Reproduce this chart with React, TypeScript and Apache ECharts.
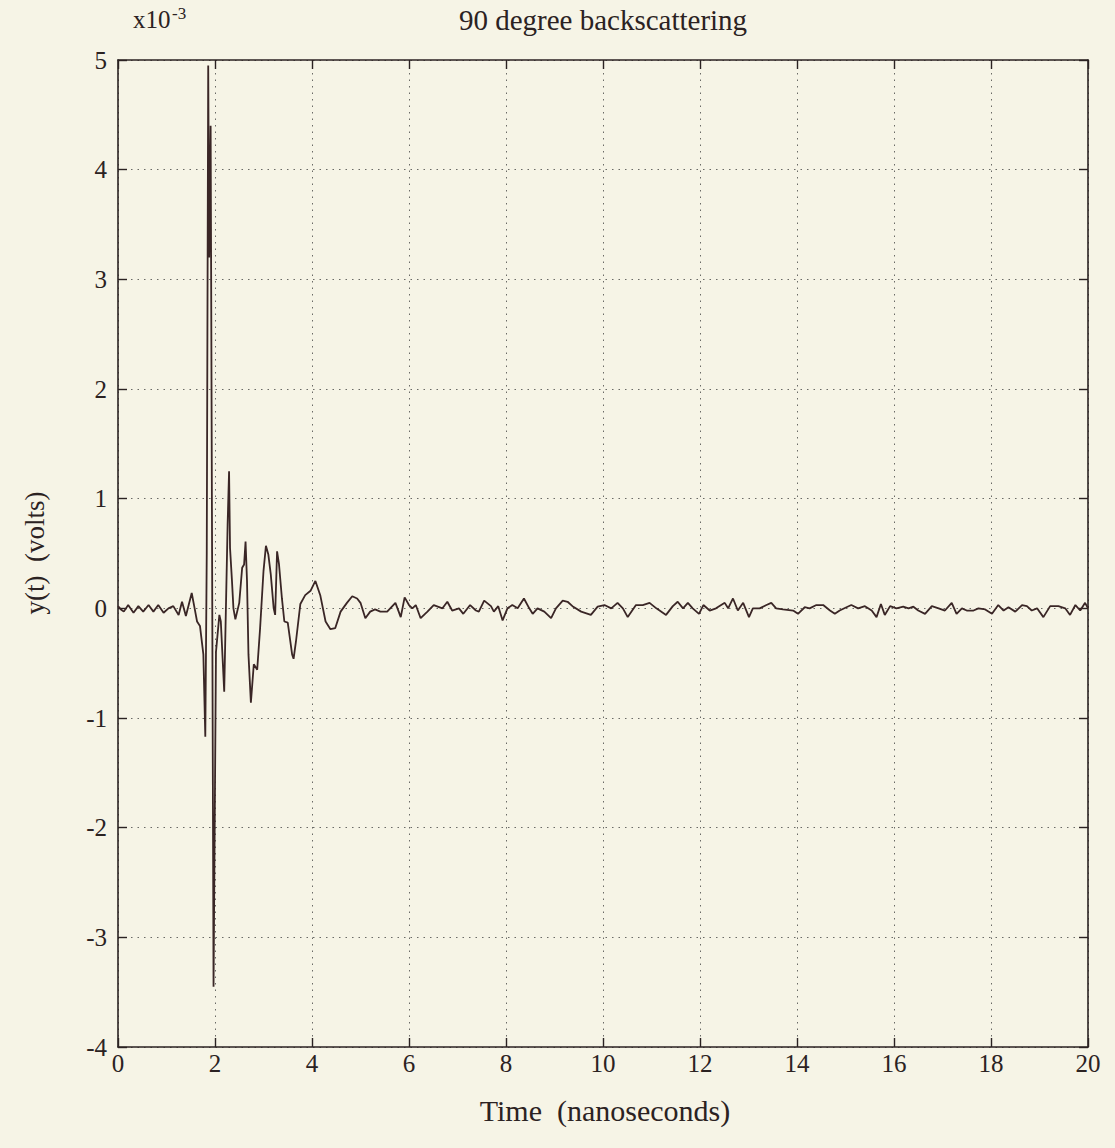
import { useEffect, useRef } from "react";
import * as echarts from "echarts";

const timeNs = [
  0.0, 0.06, 0.12, 0.21, 0.32, 0.42, 0.52, 0.63, 0.73, 0.83, 0.94, 1.04, 1.14, 1.25, 1.32, 1.4, 1.52, 1.58, 1.63, 1.69,
  1.76, 1.8, 1.83, 1.86, 1.88, 1.91, 1.94, 1.97, 2.02, 2.09, 2.12, 2.19, 2.26, 2.29, 2.31, 2.35, 2.38, 2.42, 2.5, 2.56,
  2.6, 2.63, 2.66, 2.69, 2.74, 2.8, 2.87, 2.93, 3.0, 3.05, 3.1, 3.15, 3.21, 3.24, 3.28, 3.32, 3.38, 3.43, 3.5, 3.59,
  3.62, 3.67, 3.76, 3.86, 3.97, 4.07, 4.17, 4.28, 4.38, 4.48, 4.59, 4.72, 4.83, 4.93, 5.0, 5.1, 5.2, 5.3, 5.41, 5.55,
  5.72, 5.83, 5.91, 6.0, 6.07, 6.14, 6.24, 6.38, 6.51, 6.69, 6.79, 6.89, 7.03, 7.12, 7.26, 7.38, 7.44, 7.55, 7.69, 7.75,
  7.84, 7.93, 8.03, 8.13, 8.24, 8.37, 8.48, 8.55, 8.65, 8.79, 8.93, 9.03, 9.17, 9.27, 9.37, 9.55, 9.75, 9.89, 10.03, 10.17,
  10.3, 10.41, 10.51, 10.68, 10.82, 10.96, 11.1, 11.3, 11.44, 11.54, 11.65, 11.75, 11.85, 11.98, 12.07, 12.2, 12.33, 12.51, 12.58, 12.68,
  12.78, 12.89, 13.01, 13.09, 13.23, 13.37, 13.47, 13.57, 13.71, 13.92, 14.02, 14.16, 14.26, 14.4, 14.54, 14.68, 14.78, 14.88, 15.02, 15.12,
  15.26, 15.4, 15.54, 15.64, 15.73, 15.81, 15.92, 16.05, 16.19, 16.3, 16.4, 16.5, 16.64, 16.78, 16.92, 17.05, 17.19, 17.29, 17.4, 17.5,
  17.64, 17.74, 17.88, 18.02, 18.15, 18.26, 18.36, 18.5, 18.64, 18.74, 18.84, 18.95, 19.08, 19.22, 19.39, 19.53, 19.63, 19.74, 19.84, 19.94,
  20.0,
];

// y(t) in units of 1e-3 volts
const voltsE3 = [
  0.02, -0.01, -0.03, 0.03, -0.04, 0.02, -0.03, 0.03, -0.03, 0.03, -0.04, 0.0, 0.02, -0.06, 0.06, -0.07, 0.14, 0.0, -0.12, -0.16,
  -0.42, -1.17, 0.5, 4.95, 3.2, 4.4, 0.5, -3.45, -0.4, -0.06, -0.12, -0.76, 0.76, 1.25, 0.55, 0.25, 0.0, -0.1, 0.05, 0.37,
  0.4, 0.61, 0.25, -0.42, -0.86, -0.51, -0.56, -0.18, 0.34, 0.57, 0.49, 0.31, 0.0, -0.06, 0.52, 0.4, 0.09, -0.12, -0.13, -0.42,
  -0.46, -0.3, 0.04, 0.12, 0.16, 0.25, 0.12, -0.12, -0.19, -0.18, -0.03, 0.05, 0.11, 0.09, 0.05, -0.09, -0.03, -0.01, -0.03, -0.03,
  0.05, -0.08, 0.1, 0.03, 0.0, 0.03, -0.09, -0.03, 0.03, 0.0, 0.06, -0.02, 0.0, -0.05, 0.03, -0.02, -0.03, 0.07, 0.02, -0.03,
  0.02, -0.11, 0.0, 0.03, 0.0, 0.09, 0.0, -0.05, 0.0, -0.03, -0.09, 0.0, 0.07, 0.06, 0.02, -0.03, -0.06, 0.015, 0.03, 0.0,
  0.05, 0.0, -0.08, 0.03, 0.03, 0.05, 0.0, -0.06, 0.02, 0.06, 0.0, 0.05, 0.0, -0.05, 0.03, -0.02, 0.0, 0.05, 0.0, 0.09,
  -0.02, 0.05, -0.08, 0.0, 0.0, 0.03, 0.05, 0.0, -0.01, -0.02, -0.05, 0.01, 0.0, 0.03, 0.03, -0.02, -0.05, -0.02, 0.01, 0.03,
  0.0, 0.02, -0.02, -0.08, 0.04, -0.06, 0.02, 0.0, 0.015, 0.0, 0.015, -0.02, -0.05, 0.02, 0.0, -0.02, 0.05, -0.05, 0.0, -0.02,
  -0.02, 0.0, -0.01, -0.05, 0.03, -0.02, 0.01, -0.03, 0.03, 0.02, -0.02, 0.0, -0.08, 0.02, 0.02, 0.0, -0.06, 0.03, -0.02, 0.05,
  0.0,
];

const xMin = 0;
const xMax = 20;
const xStep = 2;
const yMin = -4;
const yMax = 5;
const yStep = 1;

const titleText = "90 degree backscattering";
const xName = "Time  (nanoseconds)";
const yName = "y(t)  (volts)";

export default function App() {
  const ref = useRef<HTMLDivElement>(null);
  useEffect(() => {
    document.body.style.margin = "0";
    document.body.style.background = "#f6f4e6";
    const chart = echarts.init(ref.current!, null, { renderer: "svg" });
    const font = "'Liberation Serif', 'Times New Roman', serif";
    const ink = "#2b2222";
    const axisLine = { show: true, onZero: false, lineStyle: { color: ink, width: 1.6 } };
    const tick = { show: true, inside: true, length: 9, lineStyle: { color: ink, width: 1.4 } };
    const grid = { show: true, lineStyle: { color: "#6a6a66", width: 1, type: [1.5, 5] } };
    const data = timeNs.map((t, i) => [t, voltsE3[i]]);
    chart.setOption({
      animation: false,
      backgroundColor: "#f6f4e6",
      grid: { left: 118, right: 27, top: 60, bottom: 101, containLabel: false },
      xAxis: [
        {
          type: "value",
          min: xMin,
          max: xMax,
          interval: xStep,
          axisLine,
          axisTick: tick,
          splitLine: grid,
          axisLabel: { fontFamily: font, fontSize: 25, color: ink, margin: 4 },
        },
        {
          type: "value",
          position: "top",
          min: xMin,
          max: xMax,
          interval: xStep,
          axisLine,
          axisTick: tick,
          splitLine: { show: false },
          axisLabel: { show: false },
        },
      ],
      yAxis: [
        {
          type: "value",
          min: yMin,
          max: yMax,
          interval: yStep,
          axisLine,
          axisTick: tick,
          splitLine: grid,
          axisLabel: { fontFamily: font, fontSize: 25, color: ink, margin: 11 },
        },
        {
          type: "value",
          position: "right",
          min: yMin,
          max: yMax,
          interval: yStep,
          axisLine,
          axisTick: tick,
          splitLine: { show: false },
          axisLabel: { show: false },
        },
      ],
      series: [
        {
          type: "line",
          data,
          showSymbol: false,
          symbol: "none",
          lineStyle: { color: "#3a2626", width: 1.8 },
          xAxisIndex: 0,
          yAxisIndex: 0,
          z: 5,
        },
      ],
      graphic: [
        {
          type: "text",
          x: 603,
          y: 20,
          style: { text: titleText, fontFamily: font, fontSize: 29, fill: ink, align: "center", verticalAlign: "middle" },
        },
        {
          type: "text",
          x: 133,
          y: 19,
          style: { text: "x10", fontFamily: font, fontSize: 25, fill: ink, align: "left", verticalAlign: "middle" },
        },
        {
          type: "text",
          x: 172,
          y: 13,
          style: { text: "-3", fontFamily: font, fontSize: 17, fill: ink, align: "left", verticalAlign: "middle" },
        },
        {
          type: "text",
          x: 605,
          y: 1110,
          style: { text: xName, fontFamily: font, fontSize: 30, fill: ink, align: "center", verticalAlign: "middle" },
        },
        {
          type: "text",
          x: 35,
          y: 553,
          rotation: Math.PI / 2,
          style: { text: yName, fontFamily: font, fontSize: 27, fill: ink, align: "center", verticalAlign: "middle" },
        },
      ],
    });
    return () => chart.dispose();
  }, []);
  return (
    <div
      ref={ref}
      style={{ position: "absolute", left: 0, top: 0, width: 1115, height: 1148, background: "#f6f4e6" }}
    />
  );
}
